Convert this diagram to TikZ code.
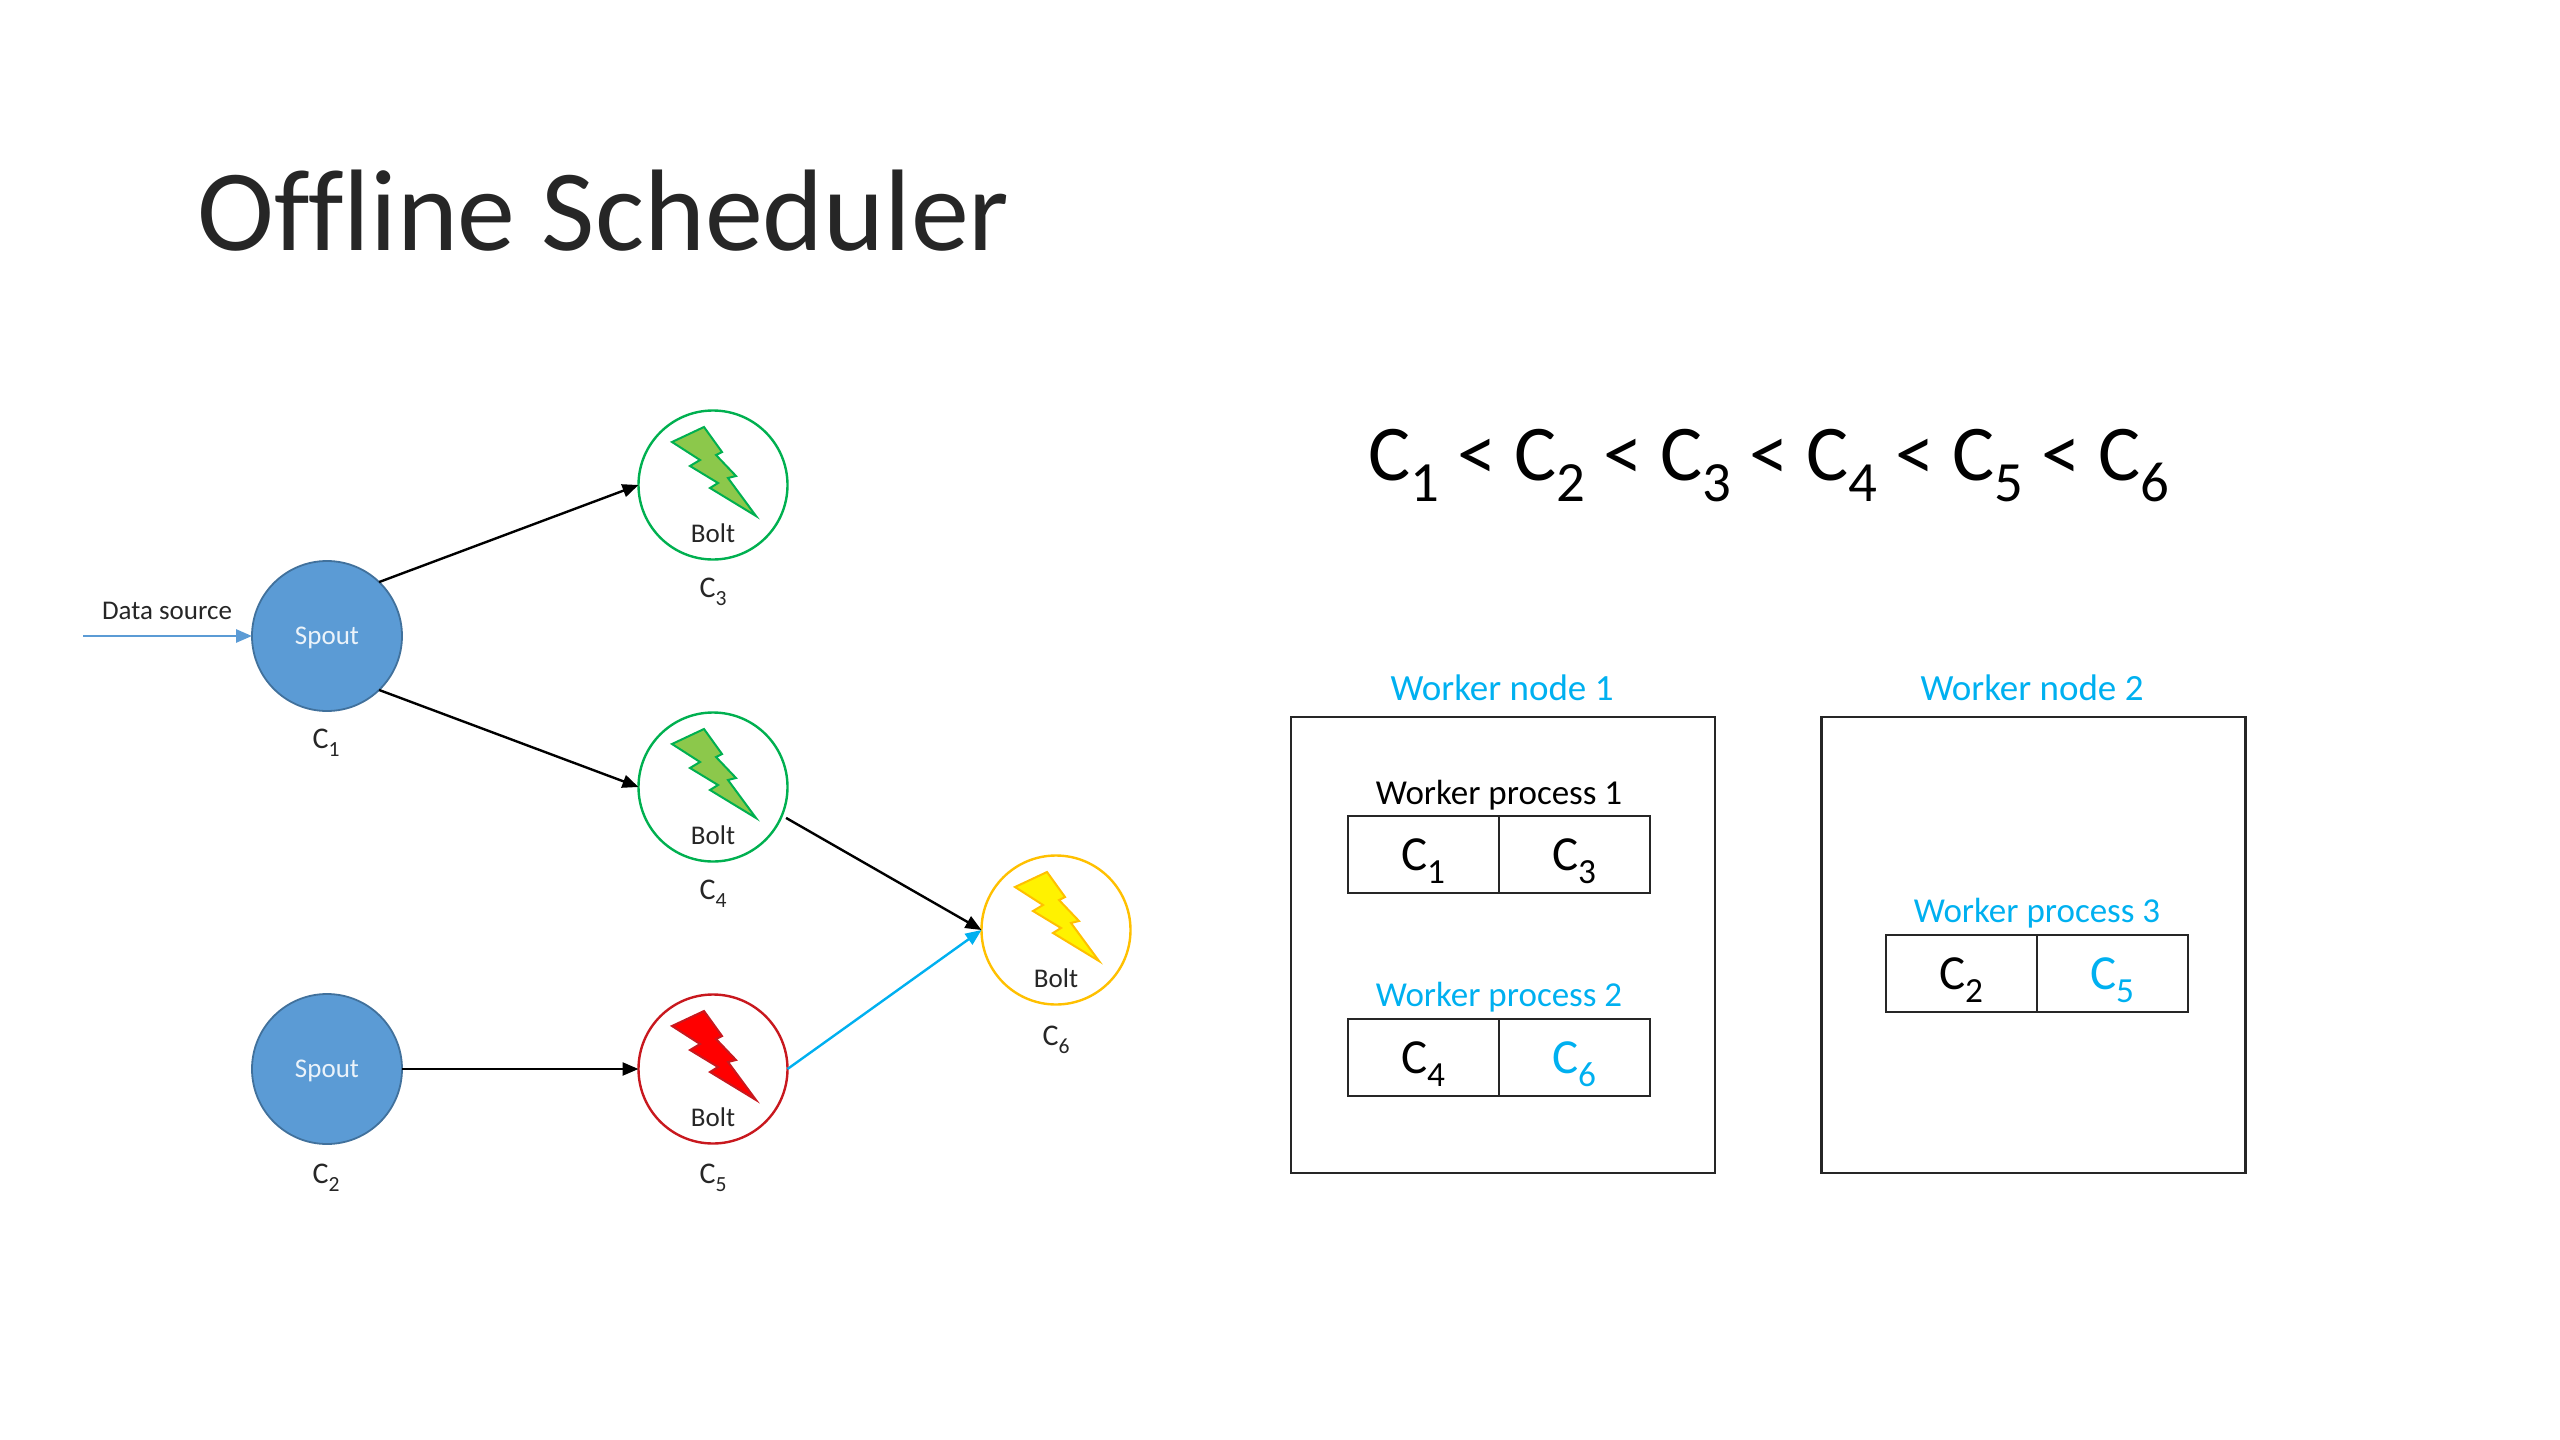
\documentclass[tikz,border=0pt]{standalone}
\usepackage{fontspec}
\usetikzlibrary{arrows.meta}
\setmainfont[Ligatures=CommonOff]{Carlito}
\definecolor{spoutfill}{HTML}{5B9BD5}
\definecolor{spoutedge}{HTML}{41719C}
\definecolor{boltgreen}{HTML}{00B050}
\definecolor{boltlime}{HTML}{8CC84B}
\definecolor{boltred}{HTML}{C8181E}
\definecolor{boltamber}{HTML}{FFC000}
\definecolor{accent}{HTML}{00B0F0}
\definecolor{inkgray}{HTML}{262626}
\newcommand{\Cs}[1]{C\raisebox{-.27em}{\scalebox{.72}{#1}}}
\newcommand{\boltat}[3]{\draw[line width=1pt,line join=miter,draw=#3,fill=#2,shift={(#1.center)}]
  (-41,-43) -- (-9,-58) -- (9,-33) -- (3,-30) -- (23,-9) -- (15,-7) -- (43,31) -- (-3,3) -- (5,-2) -- (-23,-19) -- (-13,-25) -- cycle;}
\tikzset{
  x=0.5pt,y=-0.5pt,
  spoutnode/.style={circle,minimum size=75pt,inner sep=0pt,outer sep=0pt,draw=spoutedge,fill=spoutfill,line width=0.9pt},
  boltnode/.style={circle,minimum size=74.5pt,inner sep=0pt,outer sep=0pt,line width=1.2pt,fill=white},
  smalltext/.style={anchor=base,text=inkgray,font=\fontsize{13.5}{16}\selectfont},
  clabel/.style={anchor=base,text=inkgray,font=\fontsize{15}{18}\selectfont},
  flow/.style={-{Triangle[length=8pt,width=6.5pt]},line width=1.2pt,black},
  nodebox/.style={rectangle,draw=black!85,line width=1.3pt,minimum width=212pt,minimum height=228pt,inner sep=0pt,outer sep=0pt},
  cell/.style={rectangle,draw=black!85,line width=1pt,minimum width=75.5pt,minimum height=38.5pt,inner sep=0pt,outer sep=0pt,text height=22pt,text depth=6pt,font=\fontsize{24.5}{28}\selectfont},
  wlabel/.style={anchor=base,font=\fontsize{17.5}{22}\selectfont},
  wnlabel/.style={anchor=base,font=\fontsize{18.5}{22}\selectfont},
}
\begin{document}
\begin{tikzpicture}
\useasboundingbox (0,0) rectangle (2560,1440);
\node[anchor=base west,inner sep=0pt,text=inkgray,font=\fontsize{58}{70}\selectfont] (title) at (197,250) {Offline Scheduler};
% topology
\node[spoutnode] (c1) at (327,636) {};
\node[spoutnode] (c2) at (327,1069) {};
\node[smalltext,text=white!88!spoutfill] (s1) at (327,644) {Spout};
\node[smalltext,text=white!88!spoutfill] (s2) at (327,1077) {Spout};
\node[boltnode,draw=boltgreen] (c3) at (713,485) {};
\node[boltnode,draw=boltgreen] (c4) at (713,787) {};
\node[boltnode,draw=boltred] (c5) at (713,1069) {};
\node[boltnode,draw=boltamber] (c6) at (1056,930) {};
\boltat{c3}{boltlime}{boltgreen}
\boltat{c4}{boltlime}{boltgreen}
\boltat{c5}{red}{boltred}
\boltat{c6}{yellow}{boltamber}
\node[smalltext] (b3) at (713,542) {Bolt};
\node[smalltext] (b4) at (713,844) {Bolt};
\node[smalltext] (b5) at (713,1126) {Bolt};
\node[smalltext] (b6) at (1056,987) {Bolt};
\node[clabel] (l1) at (326,748) {\Cs{1}};
\node[clabel] (l2) at (326,1183) {\Cs{2}};
\node[clabel] (l3) at (713,597) {\Cs{3}};
\node[clabel] (l4) at (713,899) {\Cs{4}};
\node[clabel] (l5) at (713,1183) {\Cs{5}};
\node[clabel] (l6) at (1056,1045) {\Cs{6}};
\node[smalltext] (ds) at (167,619) {Data source};
\coordinate (dsstart) at (83,636);
\draw[flow,spoutfill,line width=1.4pt] (dsstart) -- (c1.west);
\draw[flow] (c1.46) -- (c3.west);
\draw[flow] (c1.-46) -- (c4.west);
\draw[flow] (c2.east) -- (c5.west);
\draw[flow] ([shift={(4,3)}]c4.-22) -- (c6.west);
\draw[flow,accent] (c5.east) -- (c6.west);
% equation
\node[anchor=base,font=\fontsize{39.5}{46}\selectfont] (eq) at (1769,480) {\Cs{1} < \Cs{2} < \Cs{3} < \Cs{4} < \Cs{5} < \Cs{6}};
% worker node 1
\node[nodebox] (wn1) at (1503,945) {};
\node[wnlabel,text=accent] (wn1l) at (1502,700) {Worker node 1};
\node[wlabel,text=black] (wp1l) at (1499,804) {Worker process 1};
\node[cell] (k1) at (1423,854.5) {\Cs{1}};
\node[cell] (k3) at (1574,854.5) {\Cs{3}};
\node[wlabel,text=accent] (wp2l) at (1499,1006) {Worker process 2};
\node[cell] (k4) at (1423,1057) {\Cs{4}};
\node[cell,text=accent] (k6) at (1574,1057) {\Cs{6}};
% worker node 2
\node[nodebox] (wn2) at (2033.5,945) {};
\node[wnlabel,text=accent] (wn2l) at (2032,700) {Worker node 2};
\node[wlabel,text=accent] (wp3l) at (2037,922) {Worker process 3};
\node[cell] (k2) at (1961,973.5) {\Cs{2}};
\node[cell,text=accent] (k5) at (2112,973.5) {\Cs{5}};
\end{tikzpicture}
\end{document}
